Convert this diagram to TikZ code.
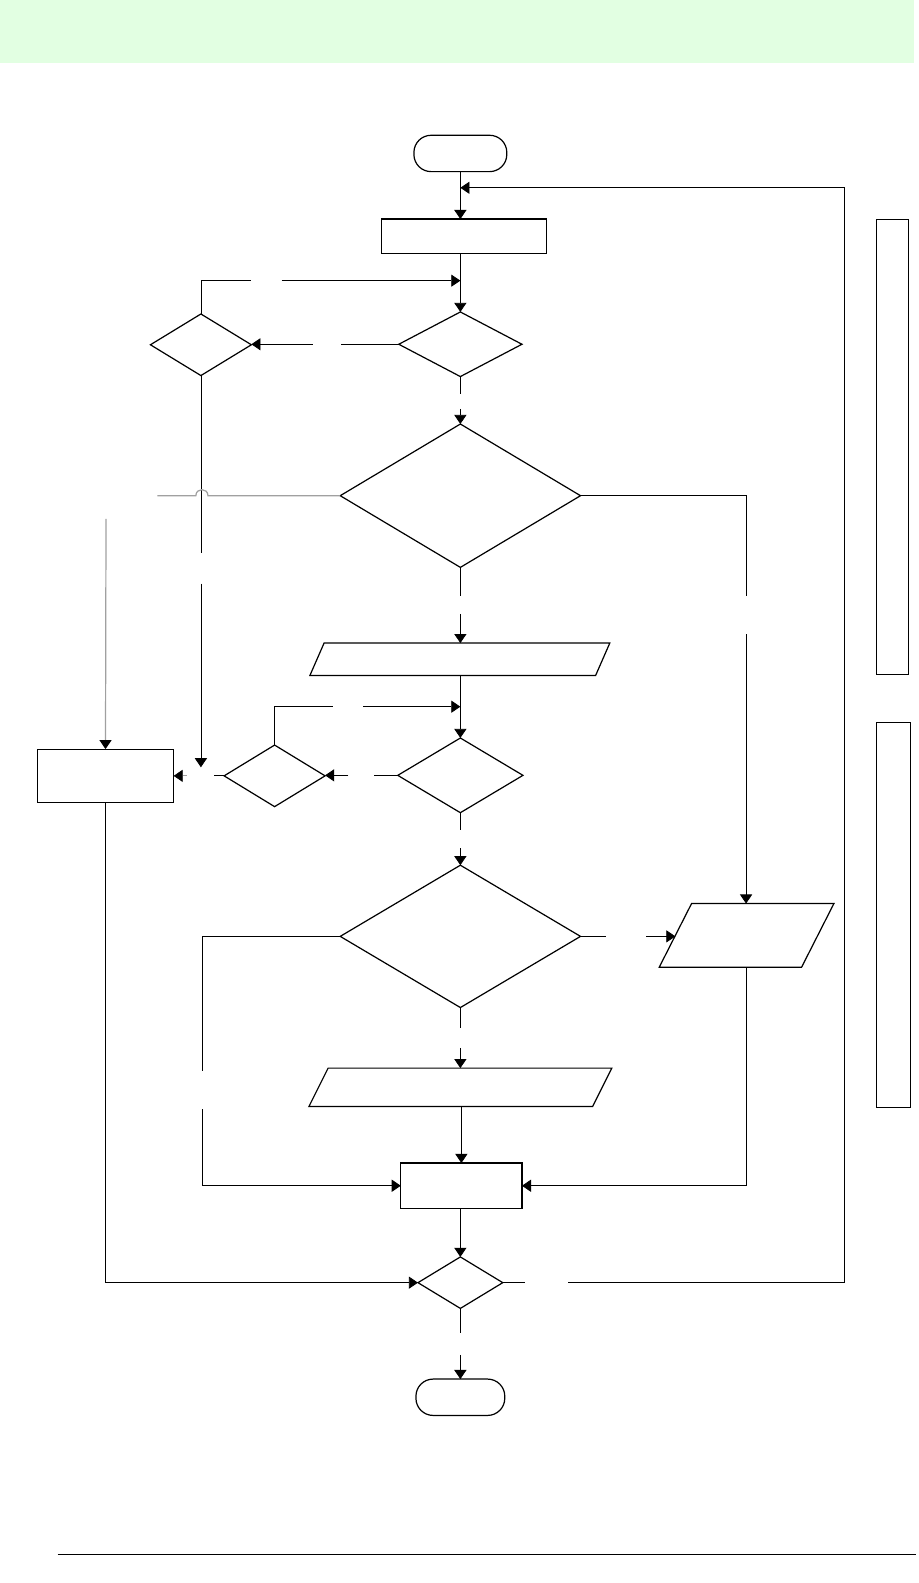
\documentclass[tikz,border=0pt]{standalone}
\usetikzlibrary{shapes.geometric,arrows.meta,calc}
\definecolor{band}{RGB}{226,255,226}
\definecolor{gline}{RGB}{160,160,160}
\begin{document}
\begin{tikzpicture}[x=1pt,y=-1pt,
  shp/.style={draw,line width=1.2pt,inner sep=0pt,outer sep=0pt},
  dia/.style={shp,diamond},
  box/.style={shp,rectangle},
  term/.style={shp,rectangle,rounded corners=17pt},
  parabox/.style={rectangle,inner sep=0pt,outer sep=0pt},
  side/.style={draw,line width=1pt,inner sep=0pt,outer sep=0pt,rectangle},
  ln/.style={line width=0.8pt},
  arr/.style={ln,-{Triangle[length=9pt,width=12pt]}},
  garr/.style={draw=gline,line width=1.2pt,-{Triangle[length=9pt,width=12pt,color=black]}},
  gry/.style={draw=gline,line width=1.2pt}]
\useasboundingbox (0,0) rectangle (910,1568);
\node[fill=band,inner sep=0pt,minimum width=905pt,minimum height=62pt,anchor=north west] (bandbox) at (0,0) {};

% nodes
\node[term,minimum width=92pt,minimum height=36pt] (start) at (456,152) {};
\node[box,minimum width=163pt,minimum height=34pt] (p1) at (459.5,234) {};
\node[dia,minimum width=122pt,minimum height=64pt] (d1) at (456,341) {};
\node[dia,minimum width=100pt,minimum height=61pt] (l1) at (199,341.5) {};
\node[dia,minimum width=238pt,minimum height=142pt] (d2) at (456,491) {};
\node[parabox,minimum width=297pt,minimum height=32pt] (pa1) at (455.5,653) {};
\node[dia,minimum width=124pt,minimum height=74pt] (d3) at (456,768) {};
\node[dia,minimum width=100pt,minimum height=61pt] (l2) at (272,768.5) {};
\node[box,minimum width=135pt,minimum height=53pt] (lbox) at (104.5,768.5) {};
\node[dia,minimum width=238pt,minimum height=141pt] (d5) at (456,927.5) {};
\node[parabox,minimum width=173pt,minimum height=63pt] (pa2) at (739.5,926.5) {};
\node[parabox,minimum width=300pt,minimum height=38pt] (pa3) at (456,1077) {};
\node[box,minimum width=120pt,minimum height=45pt] (p2) at (457,1174.5) {};
\node[dia,minimum width=84pt,minimum height=51pt] (d4) at (456,1270.5) {};
\node[term,minimum width=88pt,minimum height=36pt] (end) at (456,1384) {};
\node[side,minimum width=32pt,minimum height=451pt] (side1) at (884,442.5) {};
\node[side,minimum width=34pt,minimum height=381pt] (side2) at (885,906.5) {};

% parallelogram outlines
\draw[line width=1.2pt] (pa1.south west) -- ($(pa1.north west)+(14,0)$) -- (pa1.north east) -- ($(pa1.south east)+(-14,0)$) -- cycle;
\draw[line width=1.2pt] (pa2.south west) -- ($(pa2.north west)+(32,0)$) -- (pa2.north east) -- ($(pa2.south east)+(-32,0)$) -- cycle;
\draw[line width=1.2pt] (pa3.south west) -- ($(pa3.north west)+(19,0)$) -- (pa3.north east) -- ($(pa3.south east)+(-19,0)$) -- cycle;

% helper coordinates
\coordinate (yLoop) at (0,186);
\coordinate (xLoop) at (836,0);
\coordinate (yL1) at (0,278);
\coordinate (yL2) at (0,700);
\coordinate (xR) at (739,0);
\coordinate (xL) at (200,0);
\coordinate (yTipL) at (0,760);
\coordinate (footL) at (57,1540);
\coordinate (footR) at (907,1540);

% connectors
\draw[arr] (start.south) -- (p1.north -| start.south);
\draw[ln] (d4.east) -- ++(22,0);
\draw[arr] ($(d4.east)+(65,0)$) -- (d4.east -| xLoop) -- (xLoop |- yLoop) -- (start.south |- yLoop);
\draw[arr] (p1.south -| d1.north) -- (d1.north);
\draw[ln] (l1.north) -- (l1.north |- yL1) -- ++(50,0);
\draw[arr] ($(l1.north |- yL1)+(80,0)$) -- (d1.north |- yL1);
\draw[ln] (d1.west) -- ++(-57,0);
\draw[arr] ($(d1.west)+(-85,0)$) -- (l1.east |- d1.west);
\draw[ln] (d1.south) -- ++(0,17);
\draw[arr] ($(d1.south)+(0,32)$) -- (d2.north);
\draw[ln] (l1.south) -- ++(0,176);
\draw[arr] ($(l1.south)+(0,206)$) -- (l1.south |- yTipL);
% gray jump line
\draw[gry] (d2.west) -- (206,491) .. controls (206,483) and (194,483) .. (194,491) -- (156,491);
\draw[garr] (105,514) -- (lbox.north);
\draw[ln] (d2.east) -- (d2.east -| xR) -- ++(0,99);
\draw[arr] ($(d2.east -| xR)+(0,137)$) -- (xR |- pa2.north);
\draw[ln] (d2.south) -- ++(0,28);
\draw[arr] ($(d2.south)+(0,46)$) -- (d2.south |- pa1.north);
\draw[arr] (d3.north |- pa1.south) -- (d3.north);
\draw[ln] (l2.north) -- (l2.north |- yL2) -- ++(58,0);
\draw[arr] ($(l2.north |- yL2)+(88,0)$) -- (d3.north |- yL2);
\draw[ln] (d3.west) -- ++(-24,0);
\draw[arr] ($(d3.west)+(-49,0)$) -- (l2.east |- d3.west);
\draw[ln] (l2.west) -- ++(-10,0);
\draw[garr,line width=0.8pt] ($(l2.west)+(-37,0)$) -- (lbox.east |- l2.west);
\draw[arr] (lbox.south) -- (lbox.south |- d4.west) -- (d4.west);
\draw[ln] (d3.south) -- ++(0,17);
\draw[arr] ($(d3.south)+(0,35)$) -- (d5.north);
\draw[ln] (d5.east) -- ++(25,0);
\draw[arr] ($(d5.east)+(65,0)$) -- ($(pa2.west |- d5.east)+(16,0)$);
\draw[arr] (pa2.south) -- (pa2.south |- p2.east) -- (p2.east);
\draw[ln] (d5.west) -- (d5.west -| xL) -- ++(0,133);
\draw[arr] ($(d5.west -| xL)+(0,171)$) -- (xL |- p2.west) -- (p2.west);
\draw[ln] (d5.south) -- ++(0,20);
\draw[arr] ($(d5.south)+(0,40)$) -- (d5.south |- pa3.north);
\draw[arr] (p2.north |- pa3.south) -- (p2.north);
\draw[arr] (d4.north |- p2.south) -- (d4.north);
\draw[ln] (d4.south) -- ++(0,24);
\draw[arr] ($(d4.south)+(0,46)$) -- (end.north);
\draw[line width=1.2pt] (footL) -- (footR);
\end{tikzpicture}
\end{document}
